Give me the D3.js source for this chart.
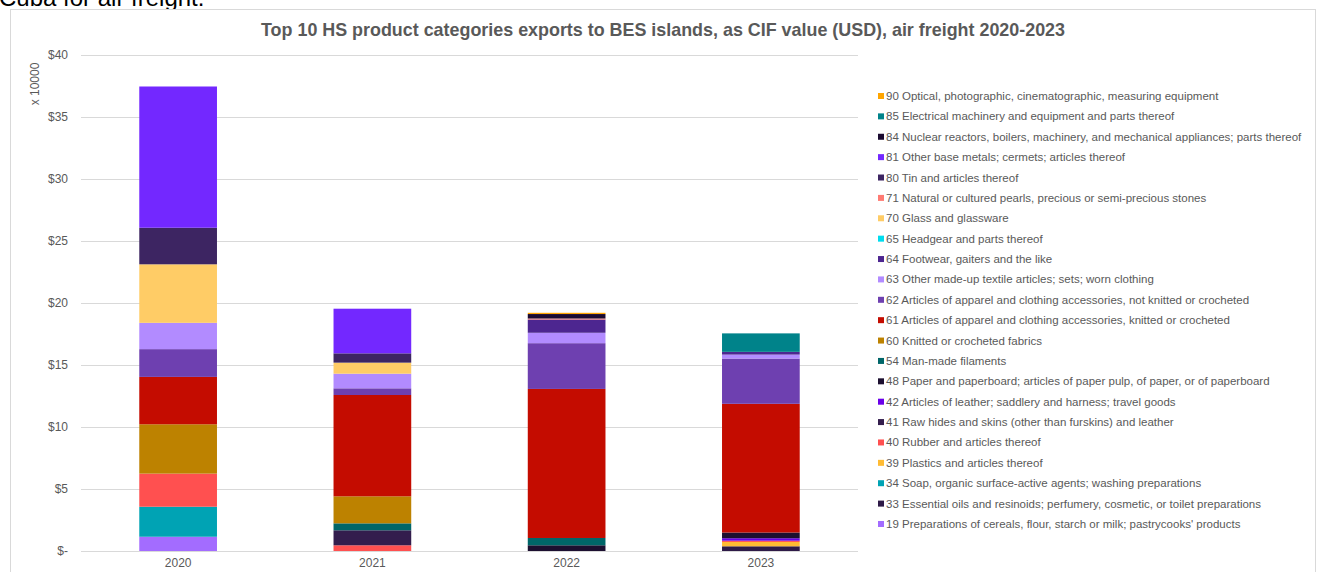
<!DOCTYPE html>
<html>
<head>
<meta charset="utf-8">
<script src="https://cdn.jsdelivr.net/npm/d3@7"></script>
<style>
  html, body { margin: 0; padding: 0; background: #ffffff; }
  svg { display: block; font-family: "Liberation Sans", Arial, sans-serif; }
</style>
</head>
<body>
<svg id="chart" width="1319" height="572"></svg>
<script>
// Years on the x axis
const years = ["2020", "2021", "2022", "2023"];

// HS chapter codes, stacked bottom to top
const codes = ["19", "33", "34", "39", "40", "41", "42", "48", "54", "60", "61",
               "62", "63", "64", "65", "70", "71", "80", "81", "84", "85", "90"];

const labels = [
  "19 Preparations of cereals, flour, starch or milk; pastrycooks' products",
  "33 Essential oils and resinoids; perfumery, cosmetic, or toilet preparations",
  "34 Soap, organic surface-active agents; washing preparations",
  "39 Plastics and articles thereof",
  "40 Rubber and articles thereof",
  "41 Raw hides and skins (other than furskins) and leather",
  "42 Articles of leather; saddlery and harness; travel goods",
  "48 Paper and paperboard; articles of paper pulp, of paper, or of paperboard",
  "54 Man-made filaments",
  "60 Knitted or crocheted fabrics",
  "61 Articles of apparel and clothing accessories, knitted or crocheted",
  "62 Articles of apparel and clothing accessories, not knitted or crocheted",
  "63 Other made-up textile articles; sets; worn clothing",
  "64 Footwear, gaiters and the like",
  "65 Headgear and parts thereof",
  "70 Glass and glassware",
  "71 Natural or cultured pearls, precious or semi-precious stones",
  "80 Tin and articles thereof",
  "81 Other base metals; cermets; articles thereof",
  "84 Nuclear reactors, boilers, machinery, and mechanical appliances; parts thereof",
  "85 Electrical machinery and equipment and parts thereof",
  "90 Optical, photographic, cinematographic, measuring equipment"
];

const colors = ["#a36cff", "#2e1a47", "#00a3b4", "#ffbb33", "#ff5050", "#331d4d",
                "#6a00e8", "#1c0f30", "#006669", "#bd8200", "#c40c00", "#6e40b0",
                "#b28bff", "#4d2690", "#00dcee", "#ffcc66", "#ff7b73", "#3d2562",
                "#7328ff", "#1a0a30", "#00838a", "#ffa500"];

// CIF value in USD per year (2020, 2021, 2022, 2023)
const v19 = [11500, 0, 0, 0];
const v33 = [0, 0, 0, 3800];
const v34 = [24200, 0, 0, 0];
const v39 = [0, 0, 0, 3500];
const v40 = [26700, 4600, 0, 1000];
const v41 = [0, 12100, 0, 0];
const v42 = [0, 0, 0, 2000];
const v48 = [0, 0, 4600, 4600];
const v54 = [0, 5600, 5900, 0];
const v60 = [39800, 21800, 0, 0];
const v61 = [38200, 81700, 120200, 103800];
const v62 = [22400, 5400, 36900, 36500];
const v63 = [21200, 11800, 8400, 3200];
const v64 = [0, 0, 10700, 2200];
const v65 = [0, 0, 0, 0];
const v70 = [47200, 8900, 0, 0];
const v71 = [0, 0, 800, 0];
const v80 = [29500, 7500, 0, 0];
const v81 = [113900, 36000, 0, 0];
const v84 = [0, 0, 3600, 0];
const v85 = [0, 0, 0, 14900];
const v90 = [0, 0, 1000, 0];

const seriesValues = [v19, v33, v34, v39, v40, v41, v42, v48, v54, v60, v61,
                      v62, v63, v64, v65, v70, v71, v80, v81, v84, v85, v90];

const yTicks = [0, 50000, 100000, 150000, 200000, 250000, 300000, 350000, 400000];

// Build a row per year for d3.stack
const rows = years.map((yr, i) => {
  const r = { year: yr };
  codes.forEach((c, k) => { r[c] = seriesValues[k][i]; });
  return r;
});

const svg = d3.select("#chart");
const textColor = "#595959";

// Text above the chart frame, partly cut by the page edge
svg.append("text")
  .attr("x", -1).attr("y", 6)
  .attr("font-size", 24)
  .attr("fill", "#000")
  .text("Cuba for air freight.");

// Chart frame
svg.append("rect")
  .attr("x", 10.5).attr("y", 9.5)
  .attr("width", 1305).attr("height", 600)
  .attr("fill", "#fff")
  .attr("stroke", "#d9d9d9");

const plot = { left: 81, right: 858, top: 55, bottom: 551 };

const x = d3.scaleBand()
  .domain(years)
  .range([plot.left, plot.right])
  .paddingInner(0.6)
  .paddingOuter(0.3);

const y = d3.scaleLinear()
  .domain([0, 400000])
  .range([plot.bottom, plot.top]);

// Gridlines
svg.append("g")
  .selectAll("line")
  .data(yTicks)
  .join("line")
  .attr("x1", plot.left).attr("x2", plot.right)
  .attr("y1", d => Math.round(y(d)) + 0.5)
  .attr("y2", d => Math.round(y(d)) + 0.5)
  .attr("stroke", "#d9d9d9")
  .attr("stroke-width", 1.2);

// Y axis labels
const yAxis = d3.axisLeft(y)
  .tickValues(yTicks)
  .tickSize(0)
  .tickPadding(0)
  .tickFormat(d => d === 0 ? "$-" : "$" + (d / 10000));

const yg = svg.append("g")
  .attr("transform", `translate(${plot.left - 13},0)`)
  .call(yAxis);
yg.select(".domain").remove();
yg.selectAll("text")
  .attr("fill", textColor)
  .attr("font-size", 12)
  .attr("font-family", "Liberation Sans, Arial, sans-serif");

// Unit label
svg.append("text")
  .attr("transform", "translate(39,84) rotate(-90)")
  .attr("text-anchor", "middle")
  .attr("font-size", 12)
  .attr("fill", textColor)
  .text("x 10000");

// X axis labels
const xAxis = d3.axisBottom(x).tickSize(0).tickPadding(7);
const xg = svg.append("g")
  .attr("transform", `translate(0,${plot.bottom})`)
  .call(xAxis);
xg.select(".domain").remove();
xg.selectAll("text")
  .attr("fill", textColor)
  .attr("font-size", 12)
  .attr("font-family", "Liberation Sans, Arial, sans-serif");

// Stacked bars
const stack = d3.stack().keys(codes);
const stacked = stack(rows);

svg.append("g")
  .selectAll("g")
  .data(stacked)
  .join("g")
  .attr("fill", (d, i) => colors[i])
  .selectAll("rect")
  .data(d => d.filter(p => p[1] - p[0] > 0))
  .join("rect")
  .attr("x", d => x(d.data.year))
  .attr("width", x.bandwidth())
  .attr("y", d => y(d[1]))
  .attr("height", d => y(d[0]) - y(d[1]));

// Title
svg.append("text")
  .attr("x", 663).attr("y", 36)
  .attr("text-anchor", "middle")
  .attr("font-size", 17.9)
  .attr("font-weight", "bold")
  .attr("fill", textColor)
  .text("Top 10 HS product categories exports to BES islands, as CIF value (USD), air freight 2020-2023");

// Legend, listed top to bottom in reverse stack order
const legendTop = 96;
const legendStep = 20.38;
const legendItems = codes.map((c, i) => ({ label: labels[i], color: colors[i] })).reverse();

const lg = svg.append("g")
  .selectAll("g")
  .data(legendItems)
  .join("g")
  .attr("transform", (d, i) => `translate(878,${legendTop + i * legendStep})`);

lg.append("rect")
  .attr("x", 0).attr("y", -3)
  .attr("width", 6).attr("height", 6)
  .attr("fill", d => d.color);

lg.append("text")
  .attr("x", 8).attr("y", 4)
  .attr("font-size", 11.5)
  .attr("fill", textColor)
  .text(d => d.label);
</script>
</body>
</html>
